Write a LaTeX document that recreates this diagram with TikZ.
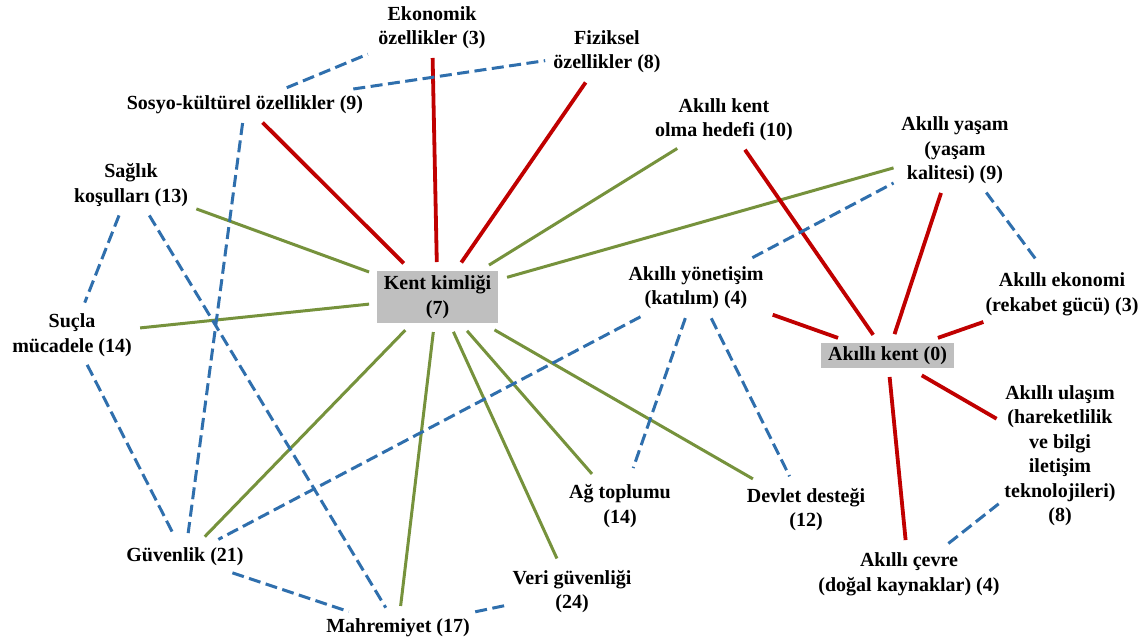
\documentclass[tikz,border=0pt]{standalone}
\usepackage{fontspec}
\setmainfont{Liberation Serif}
\definecolor{linkred}{RGB}{192,0,0}
\definecolor{linkgreen}{RGB}{118,146,60}
\definecolor{linkblue}{RGB}{47,111,173}
\definecolor{boxgray}{RGB}{191,191,191}

\begin{document}
\begin{tikzpicture}[x=1pt,y=-1pt,
  every node/.style={font=\bfseries\fontsize{20}{24.5}\selectfont, text=black},
  lbl/.style={align=center, inner sep=0pt},
  hub/.style={fill=boxgray, inner sep=0pt, align=center},
  redlink/.style={draw=linkred, line width=3.8pt},
  greenlink/.style={draw=linkgreen, line width=3pt},
  bluelink/.style={draw=linkblue, line width=3pt, dash pattern=on 12pt off 5.5pt},
  cut/.style 2 args={shorten <=#1pt, shorten >=#2pt}]
\useasboundingbox (0,0) rectangle (1146,643);
\fill[white] (0,0) rectangle (1146,643);

% concepts
\node[lbl] (ekon)    at (432,27.5)   {Ekonomik\\özellikler (3)};
\node[lbl] (fiz)     at (607,51.5)   {Fiziksel\\özellikler (8)};
\node[lbl] (sosyo)   at (245,105)    {Sosyo-kültürel özellikler (9)};
\node[lbl] (hedef)   at (724,119.5)  {Akıllı kent\\olma hedefi (10)};
\node[lbl] (yasam)   at (955,150.5)  {Akıllı yaşam\\(yaşam\\kalitesi) (9)};
\node[lbl] (saglik)  at (131,185)    {Sağlık\\koşulları (13)};
\node[hub, minimum width=121pt, minimum height=52pt] (kk) at (437.5,297) {Kent kimliği\\(7)};
\node[lbl] (yonet)   at (696,287.5)  {Akıllı yönetişim\\(katılım) (4)};
\node[lbl] (ekonomi) at (1062,294.5) {Akıllı ekonomi\\(rekabet gücü) (3)};
\node[lbl] (sucla)   at (72,335)     {Suçla\\mücadele (14)};
\node[hub, minimum width=133pt, minimum height=25pt] (ak) at (887.5,355.5) {Akıllı kent (0)};
\node[lbl] (ulasim)  at (1060,455.5) {Akıllı ulaşım\\(hareketlilik\\ve bilgi\\iletişim\\teknolojileri)\\(8)};
\node[lbl] (ag)      at (620,506)    {Ağ toplumu\\(14)};
\node[lbl] (devlet)  at (806,509.5)  {Devlet desteği\\(12)};
\node[lbl] (guv)     at (185,557)    {Güvenlik (21)};
\node[lbl] (cevre)   at (909,574.5)  {Akıllı çevre\\(doğal kaynaklar) (4)};
\node[lbl] (veri)    at (572,591.5)  {Veri güvenliği\\(24)};
\node[lbl] (mahrem)  at (398,628)    {Mahremiyet (17)};

% links of the city identity hub
\draw[redlink, cut={24.8}{47.7}]   (sosyo.center) -- (kk.center);
\draw[redlink, cut={30.5}{35}]     (ekon.center) -- (kk.center);
\draw[redlink, cut={37.6}{41.9}]   (fiz.center) -- (kk.center);
\draw[greenlink, cut={55}{60.6}]   (hedef.center) -- (kk.center);
\draw[greenlink, cut={63.9}{72.3}] (yasam.center) -- (kk.center);
\draw[greenlink, cut={69.6}{72.9}] (saglik.center) -- (kk.center);
\draw[greenlink, cut={68.5}{68.8}] (sucla.center) -- (kk.center);
\draw[greenlink, cut={46.3}{28.4}] (kk.center) -- (guv.center);
\draw[greenlink, cut={35.3}{22.2}] (kk.center) -- (mahrem.center);
\draw[greenlink, cut={38.3}{36.3}] (kk.center) -- (veri.center);
\draw[greenlink, cut={44.9}{42.6}] (kk.center) -- (ag.center);
\draw[greenlink, cut={65.8}{61.3}] (kk.center) -- (devlet.center);

% links of the smart city hub
\draw[redlink, cut={36.8}{25.1}] (hedef.center) -- (ak.center);
\draw[redlink, cut={44.7}{22.5}] (yasam.center) -- (ak.center);
\draw[redlink, cut={81.4}{52.5}] (yonet.center) -- (ak.center);
\draw[redlink, cut={83.3}{53.4}] (ekonomi.center) -- (ak.center);
\draw[redlink, cut={39.6}{73.3}] (ak.center) -- (ulasim.center);
\draw[redlink, cut={21.6}{34.6}] (ak.center) -- (cevre.center);

% secondary relations
\draw[bluelink, cut={45.2}{69.5}]  (sosyo.center) -- (ekon.center);
\draw[bluelink, cut={109.5}{62.5}] (sosyo.center) -- (fiz.center);
\draw[bluelink, cut={18.2}{24.1}]  (sosyo.center) -- (guv.center);
\draw[bluelink, cut={32.7}{34.8}]  (saglik.center) -- (sucla.center);
\draw[bluelink, cut={35.5}{23.7}]  (saglik.center) -- (mahrem.center);
\draw[bluelink, cut={33.5}{24.2}]  (sucla.center) -- (guv.center);
\draw[bluelink, cut={62.8}{37.7}]  (yonet.center) -- (guv.center);
\draw[bluelink, cut={32.4}{40.2}]  (yonet.center) -- (ag.center);
\draw[bluelink, cut={34.4}{37.1}]  (yonet.center) -- (devlet.center);
\draw[bluelink, cut={63.8}{69.5}]  (yonet.center) -- (yasam.center);
\draw[bluelink, cut={52.4}{39.8}]  (yasam.center) -- (ekonomi.center);
\draw[bluelink, cut={50.1}{78.1}]  (cevre.center) -- (ulasim.center);
\draw[bluelink, cut={50}{52}]      (guv.center) -- (mahrem.center);
\draw[bluelink, cut={78.9}{69.1}]  (mahrem.center) -- (veri.center);
\end{tikzpicture}
\end{document}
